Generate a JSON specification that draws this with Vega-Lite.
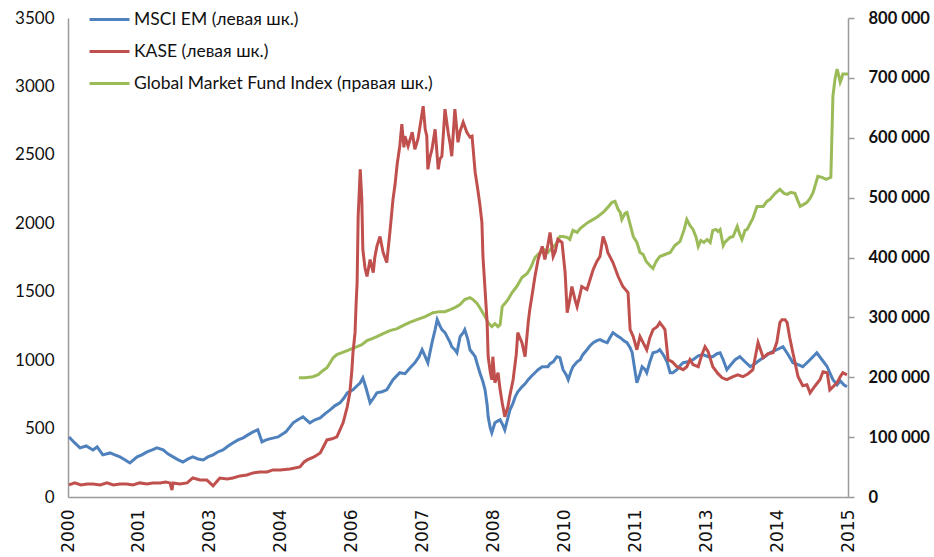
{
"$schema": "https://vega.github.io/schema/vega-lite/v6.json",
"width": 780, "height": 479,
"autosize": {"type": "none"},
"padding": {"left": 68, "top": 18, "right": 86, "bottom": 60},
"background": "white",
"config": {"view": {"stroke": null}, "axis": {"grid": false, "labelFont": "Lato", "labelColor": "#111", "domainColor": "#9a9a9a", "domainWidth": 1.5, "tickColor": "#9a9a9a", "tickWidth": 1.5}},
"datasets": {
"msci": [{"t":2000.02,"v":439},{"t":2000.13,"v":395},{"t":2000.23,"v":359},{"t":2000.35,"v":373},{"t":2000.48,"v":344},{"t":2000.56,"v":366},{"t":2000.67,"v":308},{"t":2000.81,"v":322},{"t":2000.90,"v":308},{"t":2001.00,"v":293},{"t":2001.10,"v":271},{"t":2001.19,"v":249},{"t":2001.33,"v":293},{"t":2001.42,"v":308},{"t":2001.52,"v":329},{"t":2001.62,"v":344},{"t":2001.71,"v":359},{"t":2001.83,"v":344},{"t":2001.92,"v":315},{"t":2002.02,"v":293},{"t":2002.12,"v":271},{"t":2002.21,"v":256},{"t":2002.31,"v":278},{"t":2002.40,"v":293},{"t":2002.50,"v":278},{"t":2002.60,"v":271},{"t":2002.69,"v":293},{"t":2002.79,"v":308},{"t":2002.88,"v":329},{"t":2002.98,"v":344},{"t":2003.08,"v":373},{"t":2003.17,"v":395},{"t":2003.27,"v":417},{"t":2003.37,"v":432},{"t":2003.46,"v":454},{"t":2003.56,"v":476},{"t":2003.65,"v":491},{"t":2003.73,"v":403},{"t":2003.81,"v":417},{"t":2003.88,"v":425},{"t":2003.96,"v":432},{"t":2004.04,"v":439},{"t":2004.19,"v":476},{"t":2004.33,"v":542},{"t":2004.42,"v":564},{"t":2004.52,"v":586},{"t":2004.65,"v":542},{"t":2004.75,"v":564},{"t":2004.85,"v":578},{"t":2004.94,"v":608},{"t":2005.04,"v":637},{"t":2005.13,"v":666},{"t":2005.23,"v":688},{"t":2005.31,"v":725},{"t":2005.37,"v":761},{"t":2005.48,"v":783},{"t":2005.56,"v":813},{"t":2005.62,"v":835},{"t":2005.67,"v":871},{"t":2005.73,"v":798},{"t":2005.81,"v":688},{"t":2005.88,"v":725},{"t":2005.94,"v":761},{"t":2006.04,"v":769},{"t":2006.13,"v":783},{"t":2006.25,"v":857},{"t":2006.38,"v":908},{"t":2006.48,"v":901},{"t":2006.58,"v":944},{"t":2006.67,"v":981},{"t":2006.75,"v":1025},{"t":2006.81,"v":1076},{"t":2006.87,"v":1025},{"t":2006.92,"v":981},{"t":2007.00,"v":1128},{"t":2007.06,"v":1223},{"t":2007.10,"v":1296},{"t":2007.15,"v":1252},{"t":2007.19,"v":1223},{"t":2007.25,"v":1201},{"t":2007.29,"v":1172},{"t":2007.35,"v":1128},{"t":2007.38,"v":1098},{"t":2007.44,"v":1076},{"t":2007.48,"v":1054},{"t":2007.54,"v":1172},{"t":2007.60,"v":1201},{"t":2007.63,"v":1223},{"t":2007.69,"v":1150},{"t":2007.73,"v":1076},{"t":2007.79,"v":1047},{"t":2007.83,"v":1025},{"t":2007.88,"v":959},{"t":2007.92,"v":908},{"t":2007.98,"v":842},{"t":2008.02,"v":783},{"t":2008.06,"v":674},{"t":2008.08,"v":586},{"t":2008.12,"v":505},{"t":2008.15,"v":469},{"t":2008.21,"v":542},{"t":2008.27,"v":556},{"t":2008.31,"v":564},{"t":2008.37,"v":520},{"t":2008.40,"v":491},{"t":2008.46,"v":578},{"t":2008.50,"v":637},{"t":2008.56,"v":688},{"t":2008.60,"v":732},{"t":2008.65,"v":769},{"t":2008.73,"v":805},{"t":2008.79,"v":827},{"t":2008.85,"v":857},{"t":2008.92,"v":886},{"t":2008.98,"v":908},{"t":2009.04,"v":930},{"t":2009.12,"v":952},{"t":2009.17,"v":952},{"t":2009.23,"v":952},{"t":2009.27,"v":974},{"t":2009.33,"v":988},{"t":2009.40,"v":1025},{"t":2009.46,"v":1018},{"t":2009.52,"v":930},{"t":2009.58,"v":893},{"t":2009.62,"v":857},{"t":2009.67,"v":915},{"t":2009.71,"v":952},{"t":2009.79,"v":988},{"t":2009.85,"v":1003},{"t":2009.90,"v":1040},{"t":2009.98,"v":1076},{"t":2010.04,"v":1106},{"t":2010.10,"v":1128},{"t":2010.17,"v":1142},{"t":2010.23,"v":1150},{"t":2010.31,"v":1135},{"t":2010.37,"v":1128},{"t":2010.42,"v":1164},{"t":2010.48,"v":1201},{"t":2010.56,"v":1179},{"t":2010.62,"v":1164},{"t":2010.69,"v":1142},{"t":2010.75,"v":1128},{"t":2010.81,"v":1091},{"t":2010.85,"v":1054},{"t":2010.90,"v":930},{"t":2010.94,"v":835},{"t":2011.00,"v":901},{"t":2011.04,"v":952},{"t":2011.10,"v":930},{"t":2011.13,"v":908},{"t":2011.19,"v":988},{"t":2011.25,"v":1054},{"t":2011.33,"v":1062},{"t":2011.38,"v":1076},{"t":2011.46,"v":1032},{"t":2011.52,"v":988},{"t":2011.58,"v":908},{"t":2011.63,"v":908},{"t":2011.71,"v":930},{"t":2011.77,"v":959},{"t":2011.83,"v":981},{"t":2011.92,"v":988},{"t":2012.02,"v":1003},{"t":2012.12,"v":1032},{"t":2012.21,"v":1040},{"t":2012.31,"v":1025},{"t":2012.40,"v":1025},{"t":2012.48,"v":1047},{"t":2012.54,"v":1054},{"t":2012.60,"v":1003},{"t":2012.67,"v":930},{"t":2012.73,"v":959},{"t":2012.83,"v":1003},{"t":2012.92,"v":1025},{"t":2013.02,"v":988},{"t":2013.12,"v":952},{"t":2013.21,"v":974},{"t":2013.31,"v":1003},{"t":2013.40,"v":1025},{"t":2013.50,"v":1054},{"t":2013.63,"v":1076},{"t":2013.75,"v":1098},{"t":2013.85,"v":1040},{"t":2013.94,"v":981},{"t":2014.04,"v":967},{"t":2014.13,"v":952},{"t":2014.27,"v":1003},{"t":2014.40,"v":1054},{"t":2014.50,"v":1003},{"t":2014.60,"v":952},{"t":2014.65,"v":908},{"t":2014.71,"v":857},{"t":2014.79,"v":820},{"t":2014.85,"v":849},{"t":2014.92,"v":820},{"t":2014.98,"v":805}],
"kase": [{"t":2000.02,"v":88},{"t":2000.13,"v":103},{"t":2000.25,"v":88},{"t":2000.37,"v":95},{"t":2000.48,"v":95},{"t":2000.62,"v":88},{"t":2000.75,"v":103},{"t":2000.87,"v":88},{"t":2001.00,"v":95},{"t":2001.13,"v":95},{"t":2001.25,"v":88},{"t":2001.38,"v":103},{"t":2001.52,"v":95},{"t":2001.63,"v":103},{"t":2001.77,"v":103},{"t":2001.88,"v":110},{"t":2001.96,"v":103},{"t":2002.00,"v":51},{"t":2002.02,"v":103},{"t":2002.15,"v":95},{"t":2002.29,"v":103},{"t":2002.40,"v":139},{"t":2002.54,"v":124},{"t":2002.67,"v":124},{"t":2002.73,"v":103},{"t":2002.79,"v":81},{"t":2002.87,"v":117},{"t":2002.92,"v":139},{"t":2003.06,"v":132},{"t":2003.17,"v":139},{"t":2003.31,"v":154},{"t":2003.44,"v":161},{"t":2003.56,"v":176},{"t":2003.69,"v":183},{"t":2003.83,"v":183},{"t":2003.94,"v":198},{"t":2004.08,"v":198},{"t":2004.27,"v":205},{"t":2004.46,"v":220},{"t":2004.54,"v":256},{"t":2004.60,"v":271},{"t":2004.73,"v":293},{"t":2004.85,"v":322},{"t":2004.92,"v":373},{"t":2004.98,"v":417},{"t":2005.08,"v":425},{"t":2005.17,"v":439},{"t":2005.23,"v":491},{"t":2005.29,"v":542},{"t":2005.33,"v":600},{"t":2005.37,"v":659},{"t":2005.42,"v":761},{"t":2005.46,"v":930},{"t":2005.48,"v":1054},{"t":2005.52,"v":1201},{"t":2005.54,"v":1406},{"t":2005.56,"v":1567},{"t":2005.58,"v":2050},{"t":2005.62,"v":2394},{"t":2005.65,"v":2175},{"t":2005.67,"v":1809},{"t":2005.71,"v":1677},{"t":2005.75,"v":1611},{"t":2005.81,"v":1735},{"t":2005.87,"v":1640},{"t":2005.90,"v":1750},{"t":2005.94,"v":1831},{"t":2006.00,"v":1904},{"t":2006.06,"v":1787},{"t":2006.13,"v":1713},{"t":2006.19,"v":1933},{"t":2006.25,"v":2175},{"t":2006.29,"v":2285},{"t":2006.33,"v":2431},{"t":2006.38,"v":2563},{"t":2006.42,"v":2724},{"t":2006.46,"v":2555},{"t":2006.48,"v":2636},{"t":2006.54,"v":2563},{"t":2006.62,"v":2665},{"t":2006.67,"v":2541},{"t":2006.73,"v":2614},{"t":2006.77,"v":2709},{"t":2006.83,"v":2856},{"t":2006.87,"v":2687},{"t":2006.90,"v":2636},{"t":2006.92,"v":2394},{"t":2006.96,"v":2482},{"t":2007.00,"v":2541},{"t":2007.06,"v":2687},{"t":2007.12,"v":2394},{"t":2007.15,"v":2468},{"t":2007.19,"v":2490},{"t":2007.25,"v":2834},{"t":2007.31,"v":2665},{"t":2007.35,"v":2577},{"t":2007.38,"v":2490},{"t":2007.44,"v":2834},{"t":2007.50,"v":2592},{"t":2007.54,"v":2673},{"t":2007.60,"v":2739},{"t":2007.67,"v":2665},{"t":2007.73,"v":2629},{"t":2007.77,"v":2636},{"t":2007.83,"v":2372},{"t":2007.88,"v":2248},{"t":2007.92,"v":2138},{"t":2007.96,"v":2006},{"t":2007.98,"v":1757},{"t":2008.02,"v":1516},{"t":2008.06,"v":1274},{"t":2008.08,"v":1025},{"t":2008.12,"v":915},{"t":2008.15,"v":857},{"t":2008.17,"v":1025},{"t":2008.21,"v":835},{"t":2008.27,"v":908},{"t":2008.31,"v":783},{"t":2008.35,"v":688},{"t":2008.40,"v":586},{"t":2008.46,"v":659},{"t":2008.50,"v":747},{"t":2008.56,"v":857},{"t":2008.62,"v":1040},{"t":2008.65,"v":1201},{"t":2008.69,"v":1164},{"t":2008.73,"v":1128},{"t":2008.79,"v":1025},{"t":2008.85,"v":1274},{"t":2008.88,"v":1369},{"t":2008.92,"v":1464},{"t":2008.98,"v":1611},{"t":2009.04,"v":1735},{"t":2009.12,"v":1831},{"t":2009.17,"v":1735},{"t":2009.23,"v":1845},{"t":2009.27,"v":1933},{"t":2009.33,"v":1757},{"t":2009.37,"v":1794},{"t":2009.42,"v":1882},{"t":2009.50,"v":1860},{"t":2009.56,"v":1640},{"t":2009.60,"v":1347},{"t":2009.65,"v":1442},{"t":2009.69,"v":1538},{"t":2009.75,"v":1442},{"t":2009.79,"v":1391},{"t":2009.85,"v":1486},{"t":2009.88,"v":1538},{"t":2009.98,"v":1516},{"t":2010.04,"v":1589},{"t":2010.10,"v":1662},{"t":2010.17,"v":1721},{"t":2010.23,"v":1757},{"t":2010.29,"v":1904},{"t":2010.35,"v":1838},{"t":2010.38,"v":1787},{"t":2010.48,"v":1713},{"t":2010.58,"v":1611},{"t":2010.67,"v":1538},{"t":2010.77,"v":1494},{"t":2010.81,"v":1223},{"t":2010.87,"v":1172},{"t":2010.94,"v":1076},{"t":2011.00,"v":1172},{"t":2011.06,"v":1128},{"t":2011.13,"v":1076},{"t":2011.19,"v":1164},{"t":2011.25,"v":1223},{"t":2011.33,"v":1245},{"t":2011.38,"v":1274},{"t":2011.44,"v":1245},{"t":2011.48,"v":1223},{"t":2011.54,"v":1003},{"t":2011.62,"v":988},{"t":2011.71,"v":952},{"t":2011.83,"v":930},{"t":2011.90,"v":952},{"t":2011.96,"v":1003},{"t":2012.02,"v":967},{"t":2012.12,"v":952},{"t":2012.19,"v":1040},{"t":2012.25,"v":1098},{"t":2012.31,"v":1062},{"t":2012.40,"v":952},{"t":2012.50,"v":901},{"t":2012.58,"v":871},{"t":2012.67,"v":857},{"t":2012.79,"v":879},{"t":2012.88,"v":893},{"t":2012.98,"v":879},{"t":2013.08,"v":901},{"t":2013.17,"v":930},{"t":2013.27,"v":1128},{"t":2013.37,"v":1018},{"t":2013.46,"v":1047},{"t":2013.56,"v":1054},{"t":2013.63,"v":1128},{"t":2013.69,"v":1274},{"t":2013.73,"v":1296},{"t":2013.79,"v":1296},{"t":2013.83,"v":1274},{"t":2013.88,"v":1164},{"t":2013.94,"v":1054},{"t":2014.04,"v":879},{"t":2014.13,"v":813},{"t":2014.21,"v":820},{"t":2014.27,"v":761},{"t":2014.37,"v":813},{"t":2014.46,"v":857},{"t":2014.52,"v":915},{"t":2014.60,"v":908},{"t":2014.65,"v":783},{"t":2014.71,"v":805},{"t":2014.79,"v":835},{"t":2014.85,"v":879},{"t":2014.90,"v":908},{"t":2014.98,"v":893}],
"gmf": [{"t":2004.44,"v":199200},{"t":2004.56,"v":199200},{"t":2004.71,"v":200800},{"t":2004.81,"v":204200},{"t":2004.90,"v":210900},{"t":2004.98,"v":215900},{"t":2005.04,"v":224300},{"t":2005.10,"v":232600},{"t":2005.17,"v":237700},{"t":2005.27,"v":241000},{"t":2005.37,"v":244300},{"t":2005.46,"v":247700},{"t":2005.56,"v":251000},{"t":2005.65,"v":254400},{"t":2005.75,"v":261100},{"t":2005.85,"v":264400},{"t":2005.94,"v":267800},{"t":2006.06,"v":272800},{"t":2006.19,"v":277800},{"t":2006.33,"v":281200},{"t":2006.44,"v":286200},{"t":2006.56,"v":291200},{"t":2006.71,"v":296200},{"t":2006.87,"v":301200},{"t":2007.02,"v":307900},{"t":2007.15,"v":309600},{"t":2007.25,"v":309600},{"t":2007.35,"v":313000},{"t":2007.44,"v":316300},{"t":2007.54,"v":321300},{"t":2007.63,"v":329700},{"t":2007.73,"v":333000},{"t":2007.79,"v":329700},{"t":2007.87,"v":323000},{"t":2007.94,"v":313000},{"t":2008.02,"v":301200},{"t":2008.08,"v":291200},{"t":2008.15,"v":284500},{"t":2008.21,"v":289500},{"t":2008.27,"v":284500},{"t":2008.31,"v":287900},{"t":2008.35,"v":318000},{"t":2008.40,"v":323000},{"t":2008.46,"v":329700},{"t":2008.54,"v":341400},{"t":2008.63,"v":351500},{"t":2008.73,"v":366500},{"t":2008.83,"v":373200},{"t":2008.90,"v":383300},{"t":2008.98,"v":400000},{"t":2009.08,"v":408400},{"t":2009.15,"v":413400},{"t":2009.23,"v":408400},{"t":2009.31,"v":416700},{"t":2009.38,"v":421700},{"t":2009.46,"v":435100},{"t":2009.52,"v":435100},{"t":2009.60,"v":433500},{"t":2009.65,"v":430100},{"t":2009.71,"v":445200},{"t":2009.79,"v":441800},{"t":2009.85,"v":448500},{"t":2009.90,"v":451900},{"t":2010.00,"v":458600},{"t":2010.10,"v":463600},{"t":2010.19,"v":468600},{"t":2010.29,"v":475300},{"t":2010.38,"v":483700},{"t":2010.46,"v":492000},{"t":2010.52,"v":493700},{"t":2010.58,"v":480300},{"t":2010.62,"v":475300},{"t":2010.65,"v":463600},{"t":2010.71,"v":473600},{"t":2010.75,"v":475300},{"t":2010.81,"v":455200},{"t":2010.87,"v":435100},{"t":2010.94,"v":425100},{"t":2011.00,"v":408400},{"t":2011.06,"v":405000},{"t":2011.12,"v":393300},{"t":2011.19,"v":386600},{"t":2011.25,"v":381600},{"t":2011.31,"v":393300},{"t":2011.38,"v":401700},{"t":2011.48,"v":405000},{"t":2011.58,"v":408400},{"t":2011.67,"v":420100},{"t":2011.77,"v":426800},{"t":2011.85,"v":446900},{"t":2011.90,"v":463600},{"t":2011.96,"v":453500},{"t":2012.02,"v":446900},{"t":2012.08,"v":433500},{"t":2012.12,"v":418400},{"t":2012.17,"v":428400},{"t":2012.23,"v":425100},{"t":2012.29,"v":430100},{"t":2012.35,"v":425100},{"t":2012.40,"v":445200},{"t":2012.46,"v":446900},{"t":2012.50,"v":443500},{"t":2012.54,"v":446900},{"t":2012.60,"v":420100},{"t":2012.63,"v":425100},{"t":2012.73,"v":433500},{"t":2012.79,"v":435100},{"t":2012.87,"v":451900},{"t":2012.92,"v":438500},{"t":2012.96,"v":430100},{"t":2013.02,"v":445200},{"t":2013.06,"v":446900},{"t":2013.17,"v":465300},{"t":2013.25,"v":485300},{"t":2013.31,"v":485300},{"t":2013.37,"v":485300},{"t":2013.44,"v":493700},{"t":2013.50,"v":497100},{"t":2013.60,"v":507100},{"t":2013.69,"v":513800},{"t":2013.77,"v":507100},{"t":2013.83,"v":505400},{"t":2013.90,"v":508800},{"t":2013.98,"v":507100},{"t":2014.04,"v":493700},{"t":2014.08,"v":485300},{"t":2014.15,"v":488700},{"t":2014.21,"v":492000},{"t":2014.27,"v":498700},{"t":2014.33,"v":508800},{"t":2014.38,"v":523800},{"t":2014.42,"v":535600},{"t":2014.50,"v":533900},{"t":2014.58,"v":530500},{"t":2014.67,"v":533900},{"t":2014.71,"v":669400},{"t":2014.75,"v":697900},{"t":2014.79,"v":714600},{"t":2014.83,"v":701200},{"t":2014.85,"v":692900},{"t":2014.88,"v":699600},{"t":2014.90,"v":706300},{"t":2015.00,"v":706300}]
},
"encoding": {
  "x": {"field": "t", "type": "quantitative", "scale": {"domain": [2000, 2015], "nice": false, "zero": false},
    "axis": {"title": null, "values": [2000, 2001.3636, 2002.7273, 2004.0909, 2005.4545, 2006.8182, 2008.1818, 2009.5455, 2010.9091, 2012.2727, 2013.6364, 2015],
      "labelExpr": "['2000','2001','2003','2004','2006','2007','2008','2010','2011','2013','2014','2015'][round((datum.value-2000)*11/15)]",
      "labelAngle": 270, "labelFont": "DejaVu Sans", "labelFontSize": 17, "labelPadding": 12, "ticks": false, "labelFlush": false, "labelOverlap": false}}
},
"layer": [
  {"data": {"name": "gmf"}, "mark": {"type": "line", "strokeWidth": 3, "clip": false},
   "encoding": {
     "y": {"field": "v", "type": "quantitative", "scale": {"domain": [0, 800000], "nice": false},
       "axis": {"orient": "right", "title": null, "values": [0,100000,200000,300000,400000,500000,600000,700000,800000],
         "labelExpr": "replace(format(datum.value, ','), ',', ' ')", "labelFontSize": 16.5, "labelFontWeight": "bold", "tickSize": 6, "labelPadding": 14}},
     "color": {"datum": "Global Market Fund Index (правая шк.)"}
   }},
  {"data": {"name": "msci"}, "mark": {"type": "line", "strokeWidth": 3},
   "encoding": {
     "y": {"field": "v", "type": "quantitative", "scale": {"domain": [0, 3500], "nice": false},
       "axis": {"orient": "left", "title": null, "values": [0,500,1000,1500,2000,2500,3000,3500], "format": "d", "labelFontSize": 17, "ticks": false, "labelPadding": 14}},
     "color": {"datum": "MSCI EM (левая шк.)", "type": "nominal",
       "scale": {"domain": ["MSCI EM (левая шк.)", "KASE (левая шк.)", "Global Market Fund Index (правая шк.)"], "range": ["#4F81BD", "#C0504D", "#9BBB59"]},
       "legend": {"title": null, "orient": "none", "legendX": 20, "legendY": -20, "symbolType": "stroke", "symbolSize": 1600, "symbolStrokeWidth": 3, "labelFont": "Lato", "labelFontSize": 17.5, "labelColor": "#111", "labelOffset": 3, "rowPadding": 2, "labelLimit": 500}}
   }},
  {"data": {"name": "kase"}, "mark": {"type": "line", "strokeWidth": 3},
   "encoding": {
     "y": {"field": "v", "type": "quantitative", "scale": {"domain": [0, 3500], "nice": false}, "axis": null},
     "color": {"datum": "KASE (левая шк.)"}
   }}
],
"resolve": {"scale": {"y": "independent"}, "axis": {"y": "independent"}}
}
